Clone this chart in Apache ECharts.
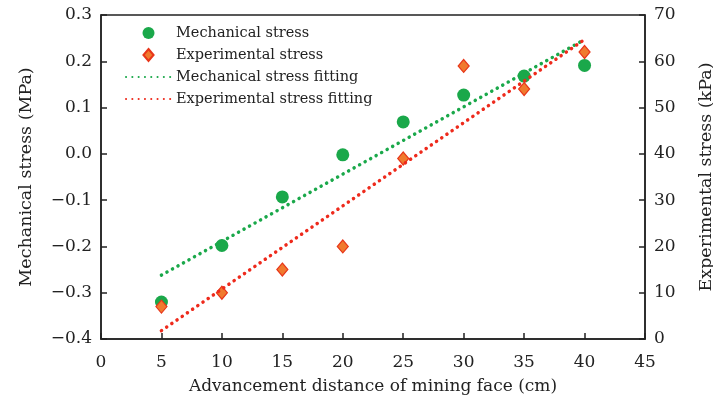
<!DOCTYPE html>
<html>
<head>
<meta charset="utf-8">
<script src="https://cdn.jsdelivr.net/npm/echarts@6/dist/echarts.min.js"></script>
<style>
  html, body { margin: 0; padding: 0; background: #fff; }
  #chart { width: 713px; height: 399px; }
</style>
</head>
<body>
<div id="chart"></div>
<script>
// distance of mining face (cm)
var distance = [5, 10, 15, 20, 25, 30, 35, 40];
// left axis, MPa
var mechStress = [-0.320, -0.198, -0.093, -0.002, 0.069, 0.127, 0.168, 0.191];
// right axis, kPa
var expStress = [7, 10, 15, 20, 39, 59, 54, 62];
// fitted line end points
var mechFit = [[5, -0.262], [40, 0.247]];
var expFit = [[5, 1.8], [40, 64.7]];

var FONT = 'DejaVu Serif';
var INK = '#222';
var GREEN = '#1aa84a';
var RED = '#ee2a1c';
var DIAMOND = 'path://M0,-13L11,0L0,13L-11,0Z';

function pairs(xs, ys) {
  return xs.map(function (x, i) { return [x, ys[i]]; });
}

document.addEventListener('DOMContentLoaded', function () {
  var chart = echarts.init(document.getElementById('chart'));

  var axisCommon = {
    axisLine: { show: true, onZero: false, lineStyle: { color: INK, width: 1.5 } },
    axisTick: { show: true, inside: true, length: 6, lineStyle: { color: INK, width: 1.5 } },
    axisLabel: { color: INK, fontFamily: FONT, fontSize: 17 },
    splitLine: { show: false },
    nameTextStyle: { color: INK, fontFamily: FONT, fontSize: 17 }
  };

  var option = {
    animation: false,
    grid: {
      left: 101, right: 68, top: 15, bottom: 60,
      outerBoundsMode: 'none', containLabel: false,
      show: true, borderColor: INK, borderWidth: 1.5
    },
    legend: {
      orient: 'vertical',
      left: 120,
      top: 20,
      itemWidth: 45,
      itemHeight: 12,
      itemGap: 6,
      symbolKeepAspect: true,
      textStyle: { color: INK, fontFamily: FONT, fontSize: 14.5, lineHeight: 16 },
      data: [
        { name: 'Mechanical stress' },
        { name: 'Experimental stress', icon: DIAMOND },
        { name: 'Mechanical stress fitting', itemStyle: { opacity: 0 } },
        { name: 'Experimental stress fitting', itemStyle: { opacity: 0 } }
      ]
    },
    xAxis: Object.assign({}, axisCommon, {
      type: 'value',
      min: 0, max: 45, interval: 5,
      name: 'Advancement distance of mining face (cm)',
      nameLocation: 'middle',
      nameGap: 39,
      axisLabel: Object.assign({}, axisCommon.axisLabel, { margin: 15 })
    }),
    yAxis: [
      Object.assign({}, axisCommon, {
        type: 'value',
        min: -0.4, max: 0.3, interval: 0.1,
        name: 'Mechanical stress (MPa)',
        nameLocation: 'middle',
        nameGap: 66,
        nameTextStyle: Object.assign({}, axisCommon.nameTextStyle, { fontSize: 17.5 }),
        axisLabel: Object.assign({}, axisCommon.axisLabel, {
          margin: 9,
          formatter: function (v) { return (v < 0 ? '\u2212' : '') + Math.abs(v).toFixed(1); }
        })
      }),
      Object.assign({}, axisCommon, {
        type: 'value',
        position: 'right',
        min: 0, max: 70, interval: 10,
        name: 'Experimental stress (kPa)',
        nameLocation: 'middle',
        nameGap: 52,
        nameRotate: 90,
        nameTextStyle: Object.assign({}, axisCommon.nameTextStyle, { fontSize: 17.5 }),
        axisLabel: Object.assign({}, axisCommon.axisLabel, { margin: 9 })
      })
    ],
    series: [
      {
        name: 'Mechanical stress fitting',
        type: 'line',
        yAxisIndex: 0,
        symbol: 'none',
        data: mechFit,
        itemStyle: { color: GREEN },
        lineStyle: { color: GREEN, width: 3.5, type: [0.1, 6.2], cap: 'round' }
      },
      {
        name: 'Experimental stress fitting',
        type: 'line',
        yAxisIndex: 1,
        symbol: 'none',
        data: expFit,
        itemStyle: { color: RED },
        lineStyle: { color: RED, width: 3.5, type: [0.1, 6.2], cap: 'round' }
      },
      {
        name: 'Mechanical stress',
        type: 'scatter',
        yAxisIndex: 0,
        symbol: 'circle',
        symbolSize: 13,
        data: pairs(distance, mechStress),
        itemStyle: { color: GREEN, opacity: 1 }
      },
      {
        name: 'Experimental stress',
        type: 'scatter',
        yAxisIndex: 1,
        symbol: 'diamond',
        symbolSize: [11, 13],
        data: pairs(distance, expStress),
        itemStyle: { color: '#f07a2e', borderColor: '#e8361a', borderWidth: 1.2, opacity: 1 }
      }
    ]
  };

  chart.setOption(option);
});
</script>
</body>
</html>
